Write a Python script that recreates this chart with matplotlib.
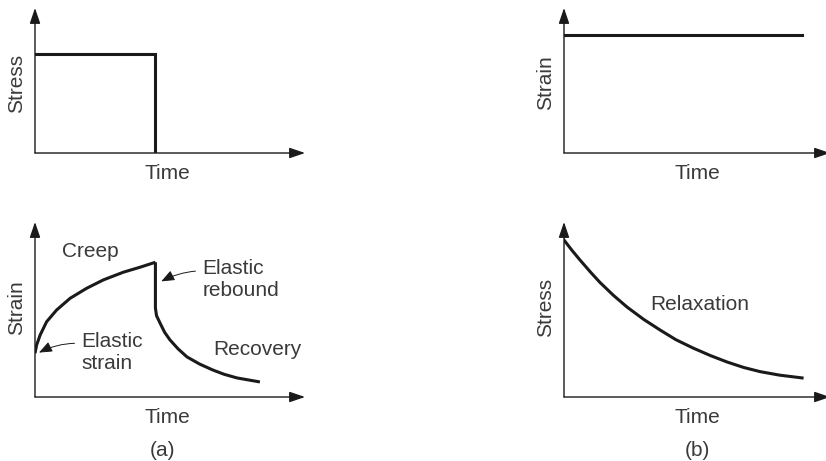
import matplotlib.pyplot as plt

plt.rcParams['font.family'] = ['Liberation Sans', 'DejaVu Sans']

TXT = '#3a3a3a'
INK = '#1a1a1a'
FS = 15

# (a) top: stress step applied then removed
stress_a_t = [0.0, 0.446, 0.446]
stress_a_v = [0.683, 0.683, 0.0]

# (a) bottom: creep then recovery (strain vs time)
creep_t = [0.0, 0.006, 0.019, 0.043, 0.080, 0.130, 0.191, 0.253, 0.327, 0.39, 0.446]
creep_v = [0.250, 0.297, 0.354, 0.430, 0.497, 0.564, 0.621, 0.669, 0.713, 0.742, 0.770]
recov_t = [0.446, 0.446, 0.450, 0.463, 0.48, 0.50, 0.53, 0.563, 0.61, 0.659, 0.70, 0.748, 0.833]
recov_v = [0.770, 0.509, 0.465, 0.423, 0.37, 0.326, 0.275, 0.229, 0.188, 0.154, 0.13, 0.109, 0.086]

# (b) top: constant strain
strain_b_t = [0.0, 0.895]
strain_b_v = [0.814, 0.814]

# (b) bottom: stress relaxation
relax_t = [0.0, 0.03, 0.060, 0.10, 0.135, 0.185, 0.237, 0.30, 0.361, 0.42, 0.485, 0.55, 0.613, 0.675, 0.737, 0.81, 0.895]
relax_v = [0.897, 0.838, 0.783, 0.713, 0.655, 0.582, 0.514, 0.443, 0.383, 0.328, 0.280, 0.237, 0.200, 0.169, 0.145, 0.125, 0.109]

W, H = 826, 461
fig = plt.figure(figsize=(W / 100, H / 100), dpi=100)


def make_axes(x0, x1, ytop, ybot):
    ax = fig.add_axes([x0 / W, 1 - ybot / H, (x1 - x0) / W, (ybot - ytop) / H])
    ax.set_xlim(0, 1)
    ax.set_ylim(0, 1)
    ax.axis('off')
    arrow = dict(arrowstyle='-|>,head_length=0.47,head_width=0.16', lw=1.0,
                 color=INK, mutation_scale=20, shrinkA=0, shrinkB=0)
    ax.annotate('', xy=(1, 0), xytext=(0, 0), xycoords='axes fraction',
                arrowprops=arrow, annotation_clip=False)
    ax.annotate('', xy=(0, 1), xytext=(0, 0), xycoords='axes fraction',
                arrowprops=arrow, annotation_clip=False)
    return ax


def labels(ax, ylab, ylab_x, ylab_y, time_x, time_y):
    ax.text(ylab_x, ylab_y, ylab, rotation=90, ha='center', va='center',
            fontsize=FS, color=TXT, transform=ax.transAxes)
    ax.text(time_x, time_y, 'Time', ha='center', va='center',
            fontsize=FS, color=TXT, transform=ax.transAxes)


# (a) top
ax1 = make_axes(35, 305, 8, 153)
ax1.plot(stress_a_t, stress_a_v, color=INK, lw=2.2, solid_joinstyle='miter')
labels(ax1, 'Stress', -0.07, 0.483, 0.489, -0.14)

# (a) bottom
ax2 = make_axes(35, 305, 222, 397)
ax2.plot(creep_t, creep_v, color=INK, lw=2.2, solid_capstyle='butt')
ax2.plot(recov_t, recov_v, color=INK, lw=2.2, solid_capstyle='butt')
labels(ax2, 'Strain', -0.07, 0.509, 0.489, -0.115)
ax2.text(0.204, 0.829, 'Creep', ha='center', va='center', fontsize=FS, color=TXT)
ax2.text(0.659, 0.269, 'Recovery', ha='left', va='center', fontsize=FS, color=TXT)
thin = dict(arrowstyle='-|>,head_length=0.5,head_width=0.2', lw=0.7, color=INK,
            mutation_scale=16, connectionstyle='arc3,rad=0.25', shrinkA=3, shrinkB=1)
ax2.annotate('Elastic\nrebound', xy=(0.463, 0.657), xytext=(0.62, 0.669),
             ha='left', va='center', fontsize=FS, color=TXT,
             linespacing=1.2, arrowprops=thin)
ax2.annotate('Elastic\nstrain', xy=(0.01, 0.25), xytext=(0.172, 0.257),
             ha='left', va='center', fontsize=FS, color=TXT,
             linespacing=1.2, arrowprops=thin)
ax2.text(0.474, -0.303, '(a)', ha='center', va='center', fontsize=FS,
         color=TXT, transform=ax2.transAxes)

# (b) top
ax3 = make_axes(564, 830, 8, 153)
ax3.plot(strain_b_t, strain_b_v, color=INK, lw=2.2)
labels(ax3, 'Strain', -0.07, 0.483, 0.5, -0.14)

# (b) bottom
ax4 = make_axes(564, 830, 222, 397)
ax4.plot(relax_t, relax_v, color=INK, lw=2.2)
labels(ax4, 'Stress', -0.07, 0.514, 0.5, -0.115)
ax4.text(0.511, 0.526, 'Relaxation', ha='center', va='center', fontsize=FS, color=TXT)
ax4.text(0.5, -0.303, '(b)', ha='center', va='center', fontsize=FS,
         color=TXT, transform=ax4.transAxes)

fig.savefig('out.png', dpi=100)
